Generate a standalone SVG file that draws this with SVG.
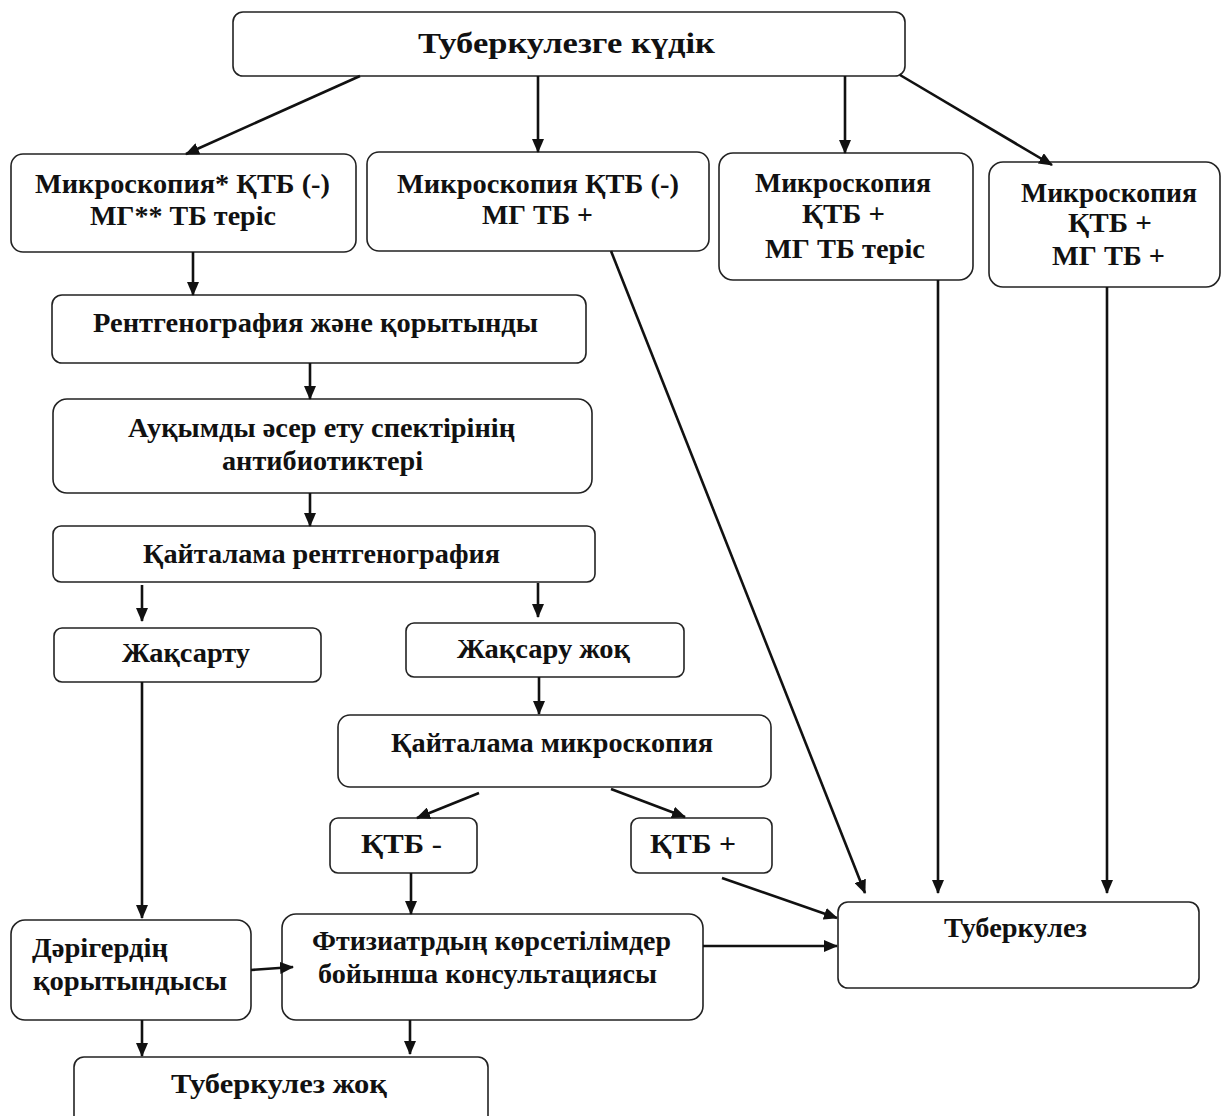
<svg xmlns="http://www.w3.org/2000/svg" width="1222" height="1116" viewBox="0 0 1222 1116">
<style>
.box{fill:#fff;stroke:#222;stroke-width:1.6}
.t{font-family:"Liberation Serif","Times New Roman",serif;font-weight:bold;font-size:27px;fill:#111;text-anchor:middle}
.ts{font-family:"Liberation Serif","Times New Roman",serif;font-weight:bold;font-size:27px;fill:#111;text-anchor:start}
.tt{font-size:30px}
.c line{stroke:#111;stroke-width:2.6;marker-end:url(#ah)}
</style>
<defs>
<marker id="ah" markerUnits="userSpaceOnUse" markerWidth="14" markerHeight="12" refX="13" refY="6" orient="auto" viewBox="0 0 14 12">
<path d="M0,0 L14,6 L0,12 z" fill="#111"/>
</marker>
</defs>
<rect width="1222" height="1116" fill="#fff"/>
<g id="n-top"><rect class="box" x="233" y="12" width="672" height="64" rx="10"/><text class="t tt" x="566.5" y="53" textLength="297" lengthAdjust="spacingAndGlyphs">Туберкулезге күдік</text></g>
<g id="n-b1"><rect class="box" x="11" y="154" width="345" height="98" rx="12"/><text class="t" x="182.5" y="193" textLength="295" lengthAdjust="spacingAndGlyphs">Микроскопия* ҚТБ (-)</text><text class="t" x="183" y="225" textLength="186" lengthAdjust="spacingAndGlyphs">МГ** ТБ теріс</text></g>
<g id="n-b2"><rect class="box" x="367" y="152" width="342" height="99" rx="12"/><text class="t" x="538" y="193" textLength="282" lengthAdjust="spacingAndGlyphs">Микроскопия ҚТБ (-)</text><text class="t" x="537.5" y="224" textLength="111" lengthAdjust="spacingAndGlyphs">МГ ТБ +</text></g>
<g id="n-b3"><rect class="box" x="719" y="153" width="254" height="127" rx="14"/><text class="t" x="843" y="192" textLength="176" lengthAdjust="spacingAndGlyphs">Микроскопия</text><text class="t" x="843.5" y="223" textLength="83" lengthAdjust="spacingAndGlyphs">ҚТБ +</text><text class="t" x="845" y="258" textLength="160" lengthAdjust="spacingAndGlyphs">МГ ТБ теріс</text></g>
<g id="n-b4"><rect class="box" x="989" y="162" width="231" height="125" rx="14"/><text class="t" x="1109" y="202" textLength="176" lengthAdjust="spacingAndGlyphs">Микроскопия</text><text class="t" x="1110" y="232" textLength="84" lengthAdjust="spacingAndGlyphs">ҚТБ +</text><text class="t" x="1108.5" y="265" textLength="113" lengthAdjust="spacingAndGlyphs">МГ ТБ +</text></g>
<g id="n-rent"><rect class="box" x="52" y="295" width="534" height="68" rx="10"/><text class="t" x="315.5" y="332" textLength="445" lengthAdjust="spacingAndGlyphs">Рентгенография және қорытынды</text></g>
<g id="n-auk"><rect class="box" x="53" y="399" width="539" height="94" rx="14"/><text class="t" x="321.5" y="437" textLength="387" lengthAdjust="spacingAndGlyphs">Ауқымды әсер ету спектірінің</text><text class="t" x="322.5" y="470" textLength="201" lengthAdjust="spacingAndGlyphs">антибиотиктері</text></g>
<g id="n-krent"><rect class="box" x="53" y="526" width="542" height="56" rx="8"/><text class="t" x="321.5" y="563" textLength="357" lengthAdjust="spacingAndGlyphs">Қайталама рентгенография</text></g>
<g id="n-zhaks"><rect class="box" x="54" y="628" width="267" height="54" rx="8"/><text class="t" x="186" y="662" textLength="128" lengthAdjust="spacingAndGlyphs">Жақсарту</text></g>
<g id="n-zhok"><rect class="box" x="406" y="623" width="278" height="54" rx="8"/><text class="t" x="543.5" y="658" textLength="173" lengthAdjust="spacingAndGlyphs">Жақсару жоқ</text></g>
<g id="n-kmic"><rect class="box" x="338" y="715" width="433" height="72" rx="12"/><text class="t" x="552" y="752" textLength="322" lengthAdjust="spacingAndGlyphs">Қайталама микроскопия</text></g>
<g id="n-ktbm"><rect class="box" x="330" y="818" width="147" height="55" rx="8"/><text class="t" x="401.5" y="853" textLength="81" lengthAdjust="spacingAndGlyphs">ҚТБ -</text></g>
<g id="n-ktbp"><rect class="box" x="631" y="818" width="141" height="55" rx="8"/><text class="t" x="693" y="853" textLength="86" lengthAdjust="spacingAndGlyphs">ҚТБ +</text></g>
<g id="n-tub"><rect class="box" x="838" y="902" width="361" height="86" rx="10"/><text class="t" x="1015.5" y="937" textLength="143" lengthAdjust="spacingAndGlyphs">Туберкулез</text></g>
<g id="n-dar"><rect class="box" x="11" y="920" width="240" height="100" rx="14"/><text class="ts" x="32" y="957" textLength="136" lengthAdjust="spacingAndGlyphs">Дәрігердің</text><text class="ts" x="33" y="990" textLength="194" lengthAdjust="spacingAndGlyphs">қорытындысы</text></g>
<g id="n-ftiz"><rect class="box" x="282" y="914" width="421" height="106" rx="14"/><text class="t" x="491.5" y="950" textLength="359" lengthAdjust="spacingAndGlyphs">Фтизиатрдың көрсетілімдер</text><text class="t" x="487.5" y="983" textLength="339" lengthAdjust="spacingAndGlyphs">бойынша консультациясы</text></g>
<g id="n-zhok2"><rect class="box" x="74" y="1057" width="414" height="70" rx="10"/><text class="t" x="279" y="1093" textLength="216" lengthAdjust="spacingAndGlyphs">Туберкулез жоқ</text></g>
<g class="c" id="connectors">
<line x1="360" y1="76" x2="186" y2="154"/>
<line x1="538" y1="76" x2="538" y2="152"/>
<line x1="845" y1="76" x2="845" y2="153"/>
<line x1="900" y1="75" x2="1052" y2="165"/>
<line x1="193" y1="252" x2="193" y2="295"/>
<line x1="310" y1="363" x2="310" y2="399"/>
<line x1="310" y1="493" x2="310" y2="526"/>
<line x1="142" y1="585" x2="142" y2="621"/>
<line x1="538" y1="583" x2="538" y2="617"/>
<line x1="539" y1="677" x2="539" y2="714"/>
<line x1="479" y1="793" x2="417" y2="818"/>
<line x1="611" y1="789" x2="685" y2="817"/>
<line x1="411" y1="873" x2="411" y2="914"/>
<line x1="722" y1="878" x2="837" y2="918"/>
<line x1="611" y1="251" x2="865" y2="893"/>
<line x1="938" y1="280" x2="938" y2="893"/>
<line x1="1107" y1="287" x2="1107" y2="893"/>
<line x1="142" y1="682" x2="142" y2="918"/>
<line x1="251" y1="970" x2="293" y2="967"/>
<line x1="703" y1="946" x2="837" y2="946"/>
<line x1="142" y1="1020" x2="142" y2="1056"/>
<line x1="410" y1="1020" x2="410" y2="1054"/>
</g>
</svg>
